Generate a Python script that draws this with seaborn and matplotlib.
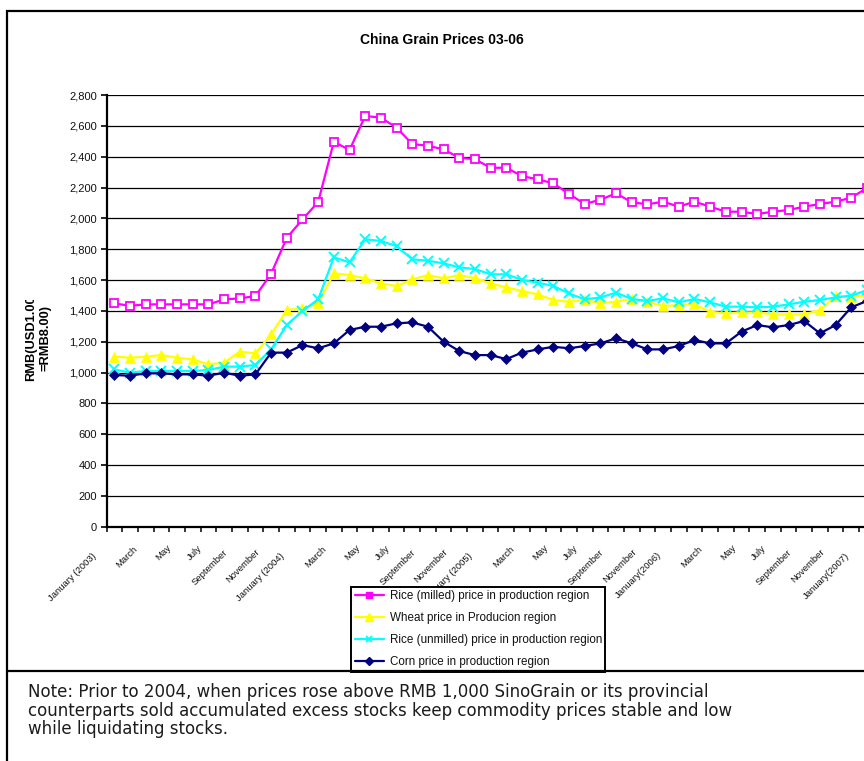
import numpy as np
import pandas as pd
import matplotlib
matplotlib.use("Agg")
import matplotlib.pyplot as plt
import seaborn as sns
from matplotlib.lines import Line2D
from matplotlib.patches import Rectangle
from matplotlib.transforms import Bbox, TransformedBbox
from matplotlib.ticker import FuncFormatter

# ---- data: monthly prices, Jan 2003 .. Jan 2007 (RMB per tonne) ----
month_labels = [
    "January (2003)", "", "March", "", "May", "", "July", "", "September", "", "November", "",
    "January (2004)", "", "March", "", "May", "", "July", "", "September", "", "November", "",
    "January (2005)", "", "March", "", "May", "", "July", "", "September", "", "November", "",
    "January(2006)", "", "March", "", "May", "", "July", "", "September", "", "November", "",
    "January(2007)",
]

rice_milled = [1448, 1433, 1442, 1442, 1442, 1442, 1442, 1474, 1481, 1496,
               1641, 1874, 1993, 2106, 2497,
               2443, 2664, 2653, 2588, 2482, 2471, 2447, 2393, 2383, 2328, 2328,
               2274, 2253, 2227, 2158, 2093, 2121,
               2162, 2104, 2091, 2108, 2076, 2108, 2076, 2043, 2043, 2028, 2043,
               2054, 2076, 2093, 2108, 2134, 2197]

wheat = [1103, 1096, 1103, 1113, 1096, 1085, 1053, 1064, 1135, 1124,
         1247, 1405, 1416, 1449, 1643,
         1632, 1611, 1578, 1561, 1604, 1632, 1611, 1632, 1611, 1578, 1552,
         1529, 1507, 1470, 1459, 1470, 1449,
         1459, 1477, 1459, 1431, 1438, 1442, 1394, 1384, 1390, 1390, 1377,
         1377, 1377, 1405, 1496, 1492, 1500]

rice_unmilled = [1020, 999, 1010, 1010, 1010, 1010, 1016, 1038, 1038, 1049,
                 1150, 1308, 1399, 1474, 1748,
                 1714, 1864, 1853, 1820, 1734, 1725, 1708, 1682, 1671, 1637, 1637,
                 1600, 1583, 1561, 1513, 1474, 1487,
                 1518, 1477, 1464, 1481, 1455, 1477, 1455, 1427, 1427, 1423, 1427,
                 1442, 1459, 1470, 1487, 1498, 1535]

corn = [984, 979, 995, 995, 988, 988, 979, 999, 979, 988,
        1129, 1129, 1178, 1157, 1189,
        1276, 1297, 1297, 1319, 1325, 1297, 1200, 1139, 1113, 1113, 1087,
        1129, 1150, 1167, 1157, 1172, 1189,
        1222, 1189, 1150, 1150, 1172, 1211, 1189, 1189, 1265, 1308, 1293,
        1308, 1334, 1254, 1308, 1423, 1464]

series_names = [
    "Rice (milled) price in production region",
    "Wheat price in Producion region",
    "Rice (unmilled) price in production region",
    "Corn price in production region",
]

note_lines = [
    "Note: Prior to 2004, when prices rose above RMB 1,000 SinoGrain or its provincial",
    "counterparts sold accumulated excess stocks keep commodity prices stable and low",
    "while liquidating stocks.",
]

# ---- styling ----
sns.set_theme(style="white")
plt.rcParams["font.family"] = ["Liberation Sans", "DejaVu Sans"]

W, H, DPI = 864, 761, 100
fig = plt.figure(figsize=(W / DPI, H / DPI), dpi=DPI, facecolor="white")


def fx(px):
    return px / W


def fy(py):
    return 1 - py / H


# plot area (runs a little past the right edge of the canvas)
ax_left, ax_right, ax_top, ax_bottom = 106.5, 874.8, 95.0, 526.7
ax = fig.add_axes([fx(ax_left), fy(ax_bottom), (ax_right - ax_left) / W, (ax_bottom - ax_top) / H])
ax.set_facecolor("white")

df = pd.DataFrame({
    "month": np.arange(len(month_labels)),
    series_names[0]: rice_milled,
    series_names[1]: wheat,
    series_names[2]: rice_unmilled,
    series_names[3]: corn,
})

styles = {
    series_names[0]: dict(color="#FF00FF", marker="s", markersize=5.5, markerfacecolor="white",
                          markeredgecolor="#FF00FF", markeredgewidth=1.3),
    series_names[1]: dict(color="#FFFF00", marker="^", markersize=6.5, markerfacecolor="#FFFF00",
                          markeredgecolor="#FFFF00", markeredgewidth=0.5),
    series_names[2]: dict(color="#00FFFF", marker="x", markersize=6.5, markerfacecolor="#00FFFF",
                          markeredgecolor="#00FFFF", markeredgewidth=1.4),
    series_names[3]: dict(color="#000080", marker="D", markersize=5, markerfacecolor="#000080",
                          markeredgecolor="#000080", markeredgewidth=0.5),
}

for name in series_names:
    sns.lineplot(data=df, x="month", y=name, ax=ax, linewidth=1.6, legend=False,
                 clip_on=True, **styles[name])

# y axis
ax.set_ylim(0, 2800)
ax.set_yticks(np.arange(0, 2801, 200))
ax.yaxis.set_major_formatter(FuncFormatter(lambda v, _: f"{v:,.0f}"))
ax.yaxis.grid(True, color="black", linewidth=0.9)
ax.set_axisbelow(True)
ax.tick_params(axis="y", which="major", left=True, length=4, width=1.2, color="black",
               direction="out", labelsize=8, labelcolor="#111111", pad=3)
ax.set_ylabel("")

# x axis: tick marks between categories, rotated month names
n_months = len(month_labels)
ax.set_xlim(-0.5, n_months - 0.5)
ax.set_xticks([])
ax.set_xticks(np.arange(-0.5, n_months, 1.0), minor=True)
ax.tick_params(axis="x", which="minor", bottom=True, length=3.5, width=1.1, color="black",
               direction="out", labelbottom=False)
ax.set_xlabel("")

for i, lab in enumerate(month_labels):
    if not lab:
        continue
    n = len(lab)
    dx_px = 3.5 + 1.15 * n
    dy_px = 17.5 + 0.75 * n
    ax.annotate(lab, xy=(i, 0), xycoords=("data", "axes fraction"),
                xytext=(-dx_px * 0.72, -dy_px * 0.72), textcoords="offset points",
                rotation=45, rotation_mode="anchor", ha="right", va="center",
                fontsize=6.8, color="#111111", annotation_clip=False)

for side in ("top", "right"):
    ax.spines[side].set_visible(False)
for side in ("left", "bottom"):
    ax.spines[side].set_color("black")
    ax.spines[side].set_linewidth(1.6)

# y-axis title, clipped at its top like the original axis-title box
ylab = fig.text(fx(38.5), fy(338), "RMB(USD1.00\n=RMB8.00)", rotation=90,
                ha="center", va="center", multialignment="center",
                fontsize=9.3, fontweight="bold", color="black")
ylab.set_clip_on(True)
ylab.set_clip_box(TransformedBbox(Bbox.from_extents(0, 0, 1, fy(300)), fig.transFigure))

# title
fig.text(fx(441.5), fy(40), "China Grain Prices 03-06", ha="center", va="center",
         fontsize=10, fontweight="bold", color="black")

# legend
handles = [
    Line2D([], [], color="#FF00FF", lw=1.6, marker="s", markersize=4.5,
           markerfacecolor="#FF00FF", markeredgecolor="#FF00FF"),
    Line2D([], [], color="#FFFF00", lw=1.6, marker="^", markersize=5.5,
           markerfacecolor="#FFFF00", markeredgecolor="#FFFF00"),
    Line2D([], [], color="#00FFFF", lw=1.6, marker="x", markersize=5,
           markeredgecolor="#00FFFF", markeredgewidth=1.3),
    Line2D([], [], color="#000080", lw=1.6, marker="D", markersize=4.5,
           markerfacecolor="#000080", markeredgecolor="#000080"),
]
leg = ax.legend(handles, series_names, loc="upper left",
                bbox_to_anchor=(fx(351), fy(587)), bbox_transform=fig.transFigure,
                frameon=True, fancybox=False, edgecolor="black", framealpha=1,
                fontsize=8.4, handlelength=2.55, handletextpad=0.45, borderpad=0.3,
                labelspacing=0.85, borderaxespad=0)
leg.get_frame().set_linewidth(1.4)
for t in leg.get_texts():
    t.set_color("#111111")

# outer chart frame and the divider above the note
fig.add_artist(Rectangle((fx(7), fy(790)), (876 - 7) / W, (790 - 11) / H,
                         transform=fig.transFigure, fill=False, edgecolor="black",
                         linewidth=1.6, zorder=6))
fig.add_artist(Line2D([fx(7), fx(876)], [fy(671), fy(671)], transform=fig.transFigure,
                      color="black", linewidth=1.6, zorder=6))

# note below the chart
for k, line in enumerate(note_lines):
    fig.text(fx(28), fy(697.0 + 18.5 * k), line, ha="left", va="baseline",
             fontsize=12.0, color="#1c1c1c", family=["DejaVu Sans"])

fig.savefig("out.png", dpi=DPI, facecolor="white")
